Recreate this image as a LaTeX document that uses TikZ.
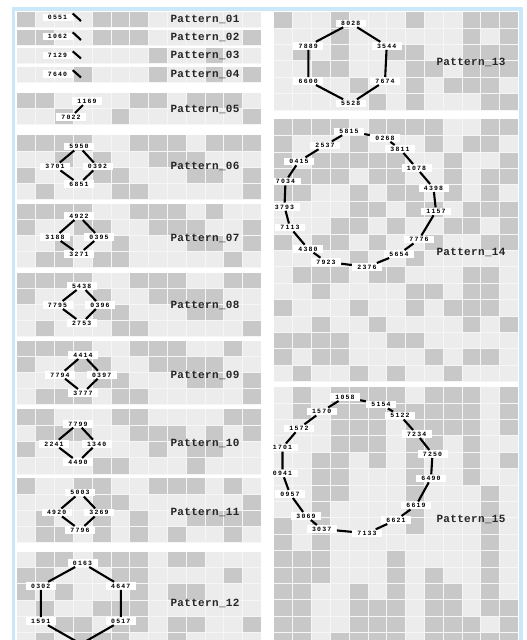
\documentclass[tikz,border=0pt]{standalone}
\usepackage{fontspec}
\usepackage{tikz}
\newfontfamily\pattfont{Liberation Mono}[LetterSpace=3]
\newfontfamily\numfont{Liberation Mono}[LetterSpace=18]

\definecolor{frameblue}{RGB}{202,232,250}
\definecolor{lightcell}{RGB}{236,236,236}
\definecolor{darkcell}{RGB}{200,200,200}
\definecolor{cellline}{RGB}{246,246,246}

\def\cw{18.8}
% #1 x0, #2 y0, #3 row height, #4 rows, #5 dark cells row/{columns}
\newcommand{\cellgrid}[5]{%
  \fill[lightcell] (#1,#2) rectangle ++({13*\cw},{#4*#3});
  \foreach \r/\cs in {#5}{
    \foreach \c in \cs
      \fill[darkcell] ({#1+\c*\cw},{#2+\r*#3}) rectangle ++(\cw,#3);
  }
  \foreach \c in {1,...,12}
    \draw[cellline] ({#1+\c*\cw},#2) -- ++(0,{#4*#3});
  \foreach \r in {1,...,#4}
    \draw[cellline] (#1,{#2+\r*#3}) -- ++({13*\cw},0);
}

\tikzset{
  cellline/.style={draw=cellline,line width=0.9pt},
  vbox/.style={fill=white,inner sep=0pt,minimum width=30pt,minimum height=7.6pt,
    text height=4.6pt,text depth=0pt,font=\numfont\bfseries\fontsize{6.5}{6.5}\selectfont},
  link/.style={line width=2.1pt,black},
  pname/.style={font=\pattfont\bfseries\fontsize{11}{11}\selectfont,text=black!85},
}

\begin{document}
\begin{tikzpicture}[x=1pt,y=-1pt]
  \useasboundingbox (0,0) rectangle (527,640);
  \draw[frameblue,line width=3.5pt] (13.7,9) rectangle (521,700);

  % left column
  \cellgrid{17}{12}{15}{1}{0/{0,4,5,6}}
  \node[vbox] (n0551) at (57.5,17.5) {0551};
  \coordinate (t0551) at (81,21);
  \draw[link] (n0551.north east) -- (t0551);
  \node[pname] (p01) at (205,19.5) {Pattern\_01};

  \cellgrid{17}{29.5}{15.5}{1}{0/{0,1,4,5,6,12}}
  \node[vbox] (n1062) at (57.5,36.3) {1062};
  \coordinate (t1062) at (81,40);
  \draw[link] (n1062.north east) -- (t1062);
  \node[pname] (p02) at (205,37.5) {Pattern\_02};

  \cellgrid{17}{48}{15.3}{1}{0/{7,10}}
  \node[vbox] (n7129) at (57.5,55.3) {7129};
  \coordinate (t7129) at (81,58.5);
  \draw[link] (n7129.north east) -- (t7129);
  \node[pname] (p03) at (205,55.8) {Pattern\_03};

  \cellgrid{17}{66.5}{16}{1}{0/{3,7,10,12}}
  \node[vbox] (n7640) at (57.5,74.2) {7640};
  \coordinate (t7640) at (81,77.5);
  \draw[link] (n7640.north east) -- (t7640);
  \node[pname] (p04) at (205,74.5) {Pattern\_04};

  \cellgrid{17}{92.5}{16.2}{2}{0/{0,1,6,7,9,10,11},1/{2,5,12}}
  \node[vbox] (n1169) at (87,101) {1169};
  \node[vbox] (n7022) at (71,117) {7022};
  \draw[link] (n1169) -- (n7022);
  \node[pname] (p05) at (205,109.7) {Pattern\_05};

  % Pattern_06
  \cellgrid{17}{135}{16}{4}{0/{0,1,2,3,6,7,8,10,11,12},1/{2,4,7,8,9},2/{0,4,5,9,10,12},3/{1,5,6,12}}
  \node[vbox] (n5950) at (79,146.5) {5950};
  \node[vbox] (n3701) at (55,166.5) {3701};
  \node[vbox] (n0392) at (97.5,166.5) {0392};
  \node[vbox] (n6851) at (79,184) {6851};
  \draw[link] (n5950) -- (n3701) -- (n6851) -- (n0392) -- (n5950);
  \node[pname] (p06) at (205,166.5) {Pattern\_06};

  % Pattern_07
  \cellgrid{17}{203.5}{16}{4}{0/{0,1,2,3,6,7,8,10},1/{0,3,4,7,8,9,12},2/{2,5,9,10,12},3/{1,2,4,5,11}}
  \node[vbox] (n4922) at (79,216) {4922};
  \node[vbox] (n3188) at (55,237) {3188};
  \node[vbox] (n0395) at (99,237) {0395};
  \node[vbox] (n3271) at (79,254) {3271};
  \draw[link] (n4922) -- (n3188) -- (n3271) -- (n0395) -- (n4922);
  \node[pname] (p07) at (205,238.5) {Pattern\_07};

  % Pattern_08
  \cellgrid{17}{272.5}{16}{4}{0/{0,1,2,3,6,7,8,11,12},1/{0,4,7,8,9,10},2/{4,5,9,10},3/{1,5,6,12}}
  \node[vbox] (n5438) at (81.7,286) {5438};
  \node[vbox] (n7795) at (57.5,305) {7795};
  \node[vbox] (n0396) at (100,305) {0396};
  \node[vbox] (n2753) at (81.7,323) {2753};
  \draw[link] (n5438) -- (n7795) -- (n2753) -- (n0396) -- (n5438);
  \node[pname] (p08) at (205,305) {Pattern\_08};

  % Pattern_09
  \cellgrid{17}{340.5}{16}{4}{0/{0,1,2,3,6,7,8,11},1/{0,3,4,7,8,9,10},2/{4,5,9,10,12},3/{1,2,3,5,6,12}}
  \node[vbox] (n4414) at (83,355) {4414};
  \node[vbox] (n7794) at (60,374.7) {7794};
  \node[vbox] (n0397) at (101.7,374.7) {0397};
  \node[vbox] (n3777) at (83,393) {3777};
  \draw[link] (n4414) -- (n7794) -- (n3777) -- (n0397) -- (n4414);
  \node[pname] (p09) at (205,375) {Pattern\_09};

  % Pattern_10
  \cellgrid{17}{409}{16.3}{4}{0/{0,1,5,6,11,12},1/{1,2,3,6,7,8,10,12},2/{0,7,9,10},3/{4,5,9}}
  \node[vbox] (n7799) at (78,423.7) {7799};
  \node[vbox] (n2241) at (54,443.7) {2241};
  \node[vbox] (n1340) at (96.7,443.7) {1340};
  \node[vbox] (n4490) at (78,462) {4490};
  \draw[link] (n7799) -- (n2241) -- (n4490) -- (n1340) -- (n7799);
  \node[pname] (p10) at (205,443.7) {Pattern\_10};

  % Pattern_11
  \cellgrid{17}{478}{16.2}{4}{0/{0,3,4,7,8,9,11},1/{4,5,12},2/{1,4,6,9,10,11,12},3/{1,2,4,6,8,11}}
  \node[vbox] (n5003) at (80,492.5) {5003};
  \node[vbox] (n4920) at (56.7,512.5) {4920};
  \node[vbox] (n3269) at (99,512.5) {3269};
  \node[vbox] (n7796) at (80,530) {7796};
  \draw[link] (n5003) -- (n4920) -- (n7796) -- (n3269) -- (n5003);
  \node[pname] (p11) at (205,512) {Pattern\_11};

  % Pattern_12
  \cellgrid{17}{551.5}{16.2}{6}{0/{1,2,4,5,6,8,9},1/{0,1,5,6,11},2/{0,2,6,8,9},3/{1,4,5,6},4/{2,3,5,6,8,9,12},5/{1,3,4,5,8}}
  \node[vbox] (n0163) at (82.5,563) {0163};
  \node[vbox] (n0302) at (40.8,585.8) {0302};
  \node[vbox] (n4647) at (120.8,585.8) {4647};
  \node[vbox] (n1591) at (40.8,621.2) {1591};
  \node[vbox] (n0517) at (120.8,621.2) {0517};
  \coordinate (b12) at (81,644);
  \draw[link] (n0163) -- (n0302) -- (n1591) -- (b12);
  \draw[link] (n0163) -- (n4647) -- (n0517) -- (b12);
  \node[pname] (p12) at (205,603.7) {Pattern\_12};

  % right column
  % Pattern_13
  \cellgrid{274}{11.7}{16.4}{6}{0/{0,3,7,10,11,12},1/{3,10,12},2/{1,3,6,7,10,11,12},3/{2,3,7,8,10,11,12},4/{4,7,9,10,11},5/{5,7,11,12}}
  \node[vbox] (n8028) at (350.8,23.3) {8028};
  \node[vbox] (n7889) at (308.3,45.8) {7889};
  \node[vbox] (n3544) at (386.7,45.8) {3544};
  \node[vbox] (n6600) at (308.3,81) {6600};
  \node[vbox] (n7674) at (385,81) {7674};
  \node[vbox] (n5528) at (350.8,103.3) {5528};
  \draw[link] (n8028) -- (n7889) -- (n6600) -- (n5528) -- (n7674) -- (n3544) -- (n8028);
  \node[pname] (p13) at (471,62) {Pattern\_13};

  % Pattern_14
  \cellgrid{274}{119.3}{16.4}{16}{0/{0,1,2,3,5,6,7,8,11,12},1/{0,4,8,10,11},2/{0,2,3,4,5,6,9,12},3/{0,1,2,3,5,6,9,11,12},4/{0,1,4,6,7,9,11},5/{4,5,7,8,10,11,12},6/{3,4,6,9,10,12},7/{0,2,3,5,8,11,12},8/{4,7},9/{1,2,3,5,6,10,11},10/{2,7,8,10,11},11/{0,4,7,9,10,11},12/{2,5,10,12},13/{0,1,2,3,6,7},14/{0,2,3,8,10,11},15/{1,4,6,9}}
  \node[vbox] (n5815) at (349,131.3) {5815};
  \node[vbox] (n0268) at (385,137.8) {0268};
  \node[vbox] (n3811) at (400,149) {3811};
  \node[vbox] (n1078) at (416.5,168) {1078};
  \node[vbox] (n4398) at (433.5,188) {4398};
  \node[vbox] (n1157) at (436,211.3) {1157};
  \node[vbox] (n7776) at (419,239.5) {7776};
  \node[vbox] (n5654) at (399,254) {5654};
  \node[vbox] (n2376) at (367,267) {2376};
  \node[vbox] (n7923) at (326,261.7) {7923};
  \node[vbox] (n4380) at (308,248.7) {4380};
  \node[vbox] (n7113) at (290,227.5) {7113};
  \node[vbox] (n3793) at (284.5,206.7) {3793};
  \node[vbox] (n7034) at (285.5,181.3) {7034};
  \node[vbox] (n0415) at (299,161.3) {0415};
  \node[vbox] (n2537) at (325,145.3) {2537};
  \draw[link] (n5815) -- (n0268) -- (n3811) -- (n1078) -- (n4398) -- (n1157) -- (n7776) -- (n5654)
    -- (n2376) -- (n7923) -- (n4380) -- (n7113) -- (n3793) -- (n7034) -- (n0415) -- (n2537) -- (n5815);
  \node[pname] (p14) at (471,252) {Pattern\_14};

  % Pattern_15
  \cellgrid{274}{386.7}{16.4}{16}{0/{1,3,4,5,6,8,9,10,12},1/{1,3,4,5,6,7,8,9,10,12},2/{3,4,5,7,8,9,10,12},3/{3,4,5,7,8,10},4/{2,3,5,7,10,12},5/{2,3,7,10},6/{2,3,7,11},7/{2,7,11},8/{0,2,7,11},9/{0,2,11},10/{0,1,2,6,11},11/{0,1,2,6,8,11},12/{0,1,4,6,8,9,11},13/{0,1,4,5,6,8,9,11,12},14/{0,1,4,5,6,8,9,10,12},15/{0,1,3,4,5,6,8,9,10,11,12}}
  \node[vbox] (n1058) at (345,397) {1058};
  \node[vbox] (n5154) at (381,404.5) {5154};
  \node[vbox] (n5122) at (400,415.5) {5122};
  \node[vbox] (n7234) at (416.7,434) {7234};
  \node[vbox] (n7250) at (432.5,454) {7250};
  \node[vbox] (n6490) at (431,478.3) {6490};
  \node[vbox] (n6619) at (416,505.5) {6619};
  \node[vbox] (n6621) at (396,520) {6621};
  \node[vbox] (n7133) at (367,533.3) {7133};
  \node[vbox] (n3037) at (321.7,529) {3037};
  \node[vbox] (n3069) at (306,516) {3069};
  \node[vbox] (n0957) at (290,494) {0957};
  \node[vbox] (n0941) at (282.5,473.3) {0941};
  \node[vbox] (n1701) at (282.5,447.5) {1701};
  \node[vbox] (n1572) at (299,428.3) {1572};
  \node[vbox] (n1570) at (321.7,411.5) {1570};
  \draw[link] (n1058) -- (n5154) -- (n5122) -- (n7234) -- (n7250) -- (n6490) -- (n6619) -- (n6621)
    -- (n7133) -- (n3037) -- (n3069) -- (n0957) -- (n0941) -- (n1701) -- (n1572) -- (n1570) -- (n1058);
  \node[pname] (p15) at (471,519) {Pattern\_15};
\end{tikzpicture}
\end{document}
